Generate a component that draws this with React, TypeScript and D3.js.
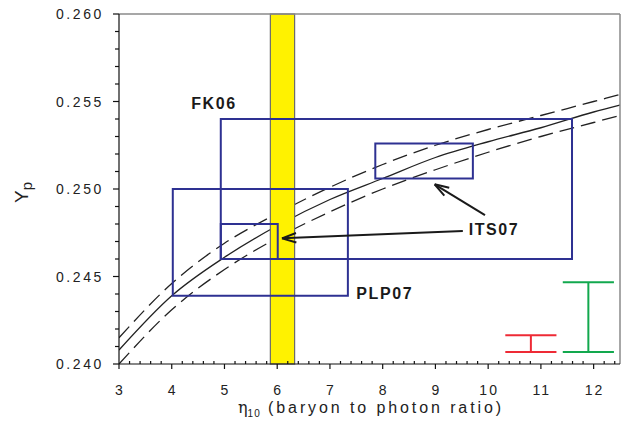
import React from "react"
import * as d3 from "d3"

// BBN prediction for Yp vs eta
const etaGrid = [3, 4, 5, 6, 7, 8, 9, 10, 11, 12, 12.5]
const ypCentral = [0.2408, 0.2439, 0.2461, 0.2479, 0.2494, 0.2506, 0.2518, 0.2527, 0.2535, 0.2544, 0.2548]
const ypUpper = [0.2415, 0.2446, 0.2469, 0.2486, 0.2501, 0.2514, 0.2525, 0.2534, 0.2542, 0.2550, 0.2554]
const ypLower = [0.2400, 0.2431, 0.2454, 0.2472, 0.2487, 0.2500, 0.2511, 0.2521, 0.2530, 0.2538, 0.2542]

// WMAP eta band
const bandEta = [5.87, 6.33]

// observational boxes
const boxNames = ["FK06", "PLP07", "ITS07", "ITS07"]
const boxEtaMin = [4.93, 4.02, 4.93, 7.86]
const boxEtaMax = [11.59, 7.34, 6.01, 9.71]
const boxYMin = [0.2460, 0.2439, 0.2460, 0.2506]
const boxYMax = [0.2540, 0.2500, 0.2480, 0.2526]

// labels
const labelText = ["FK06", "PLP07", "ITS07"]
const labelEta = [4.37, 7.5, 9.63]
const labelY = [0.2546, 0.24371, 0.2474]

// arrows from ITS07 label to its two boxes
const arrowFromEta = [9.52, 9.94]
const arrowFromY = [0.2476, 0.24851]
const arrowToEta = [6.09, 8.985]
const arrowToY = [0.24718, 0.25027]

// error scale bars
const errEta = [10.81, 11.9]
const errLow = [0.24069, 0.24069]
const errHigh = [0.24164, 0.24467]
const errColor = ["#ee2a35", "#12a84e"]

const xTicks = [3, 4, 5, 6, 7, 8, 9, 10, 11, 12]
const yTicks = [0.24, 0.245, 0.25, 0.255, 0.26]

const W = 624
const H = 434
const margin = { top: 14, right: 4, bottom: 70, left: 119 }

const App = () => {
    const x = d3.scaleLinear().domain([3, 12.5]).range([margin.left, W - margin.right])
    const y = d3.scaleLinear().domain([0.24, 0.26]).range([H - margin.bottom, margin.top])
    const x0 = x(3)
    const x1 = x(12.5)
    const y0 = y(0.24)
    const y1 = y(0.26)

    const line = d3
        .line<number>()
        .x((_, i) => x(etaGrid[i]))
        .y((d) => y(d))
        .curve(d3.curveMonotoneX)

    const xMinor = d3.range(3, 12.51, 0.2).filter((v) => Math.abs(v - Math.round(v)) > 0.01)
    const yMinor = d3.range(0.24, 0.2601, 0.001).filter((v) => Math.abs(v * 200 - Math.round(v * 200)) > 0.01)

    const font = "'Liberation Sans', Arial, sans-serif"

    const arrowHead = (fx: number, fy: number, tx: number, ty: number) => {
        const ang = Math.atan2(fy - ty, fx - tx)
        const len = 15
        const spread = 0.32
        const a = [ang - spread, ang + spread]
        return a.map((t) => `M${tx},${ty}L${tx + len * Math.cos(t)},${ty + len * Math.sin(t)}`).join("")
    }

    return (
        <svg width={W} height={H} style={{ position: "absolute", left: 0, top: 0 }} fontFamily={font}>
            <rect width={W} height={H} fill="#fff" />
            <defs>
                <clipPath id="plot">
                    <rect x={x0} y={y1} width={x1 - x0} height={y0 - y1} />
                </clipPath>
            </defs>

            {/* curves */}
            <g clipPath="url(#plot)" fill="none" stroke="#222" strokeWidth={1.3}>
                <path d={line(ypCentral) || ""} />
                <path d={line(ypUpper) || ""} strokeDasharray="15,7" />
                <path d={line(ypLower) || ""} strokeDasharray="15,7" />
            </g>

            {/* eta band */}
            <rect
                x={x(bandEta[0])}
                y={y1}
                width={x(bandEta[1]) - x(bandEta[0])}
                height={y0 - y1}
                fill="#fff200"
                stroke="#6b6b6b"
                strokeWidth={1.2}
            />

            {/* boxes */}
            <g fill="none" stroke="#2e3192" strokeWidth={2}>
                {boxNames.map((n, i) => (
                    <rect
                        key={i}
                        x={x(boxEtaMin[i])}
                        y={y(boxYMax[i])}
                        width={x(boxEtaMax[i]) - x(boxEtaMin[i])}
                        height={y(boxYMin[i]) - y(boxYMax[i])}
                    />
                ))}
            </g>

            {/* arrows */}
            <g fill="none" stroke="#1a1a1a" strokeWidth={2}>
                {arrowFromEta.map((_, i) => {
                    const fx = x(arrowFromEta[i])
                    const fy = y(arrowFromY[i])
                    const tx = x(arrowToEta[i])
                    const ty = y(arrowToY[i])
                    return (
                        <g key={i}>
                            <line x1={fx} y1={fy} x2={tx} y2={ty} />
                            <path d={arrowHead(fx, fy, tx, ty)} />
                        </g>
                    )
                })}
            </g>

            {/* labels */}
            {labelText.map((t, i) => (
                <text
                    key={i}
                    x={x(labelEta[i])}
                    y={y(labelY[i])}
                    fontSize={16}
                    fontWeight="bold"
                    letterSpacing={1.6}
                    fill="#1a1a1a"
                >
                    {t}
                </text>
            ))}

            {/* error bars */}
            {errEta.map((e, i) => (
                <g key={i} stroke={errColor[i]} strokeWidth={2}>
                    <line x1={x(e)} x2={x(e)} y1={y(errLow[i])} y2={y(errHigh[i])} />
                    <line x1={x(e - 0.485)} x2={x(e + 0.485)} y1={y(errLow[i])} y2={y(errLow[i])} />
                    <line x1={x(e - 0.485)} x2={x(e + 0.485)} y1={y(errHigh[i])} y2={y(errHigh[i])} />
                </g>
            ))}

            {/* frame */}
            <g stroke="#8a8a8a" strokeWidth={1.5}>
                <line x1={x0} x2={x1} y1={y1} y2={y1} />
                <line x1={x1} x2={x1} y1={y1} y2={y0} />
            </g>

            {/* axes */}
            <g stroke="#111" strokeWidth={1.2}>
                <line x1={x0} x2={x1} y1={y0} y2={y0} />
                <line x1={x0} x2={x0} y1={y0} y2={y1} />
                {xTicks.map((t) => (
                    <line key={"xt" + t} x1={x(t)} x2={x(t)} y1={y0} y2={y0 + 5} />
                ))}
                {xMinor.map((t, i) => (
                    <line key={"xm" + i} x1={x(t)} x2={x(t)} y1={y0} y2={y0 - 3} />
                ))}
                {yTicks.map((t) => (
                    <line key={"yt" + t} x1={x0 - 6} x2={x0} y1={y(t)} y2={y(t)} />
                ))}
                {yMinor.map((t, i) => (
                    <line key={"ym" + i} x1={x0 - 4} x2={x0} y1={y(t)} y2={y(t)} />
                ))}
            </g>

            <g fontSize={14} fill="#222">
                {xTicks.map((t) => (
                    <text key={"xl" + t} x={x(t) + 1} y={y0 + 31} textAnchor="middle" letterSpacing={2}>
                        {t}
                    </text>
                ))}
                {yTicks.map((t) => (
                    <text key={"yl" + t} x={x0 - 15} y={y(t) + 5} textAnchor="end" letterSpacing={2.6}>
                        {d3.format(".3f")(t)}
                    </text>
                ))}
            </g>

            {/* axis titles */}
            <text x={x(3) + 119} y={y0 + 49} fontSize={16} fill="#222" letterSpacing={2.9}>
                <tspan fontFamily="'DejaVu Serif', serif" fontSize={16} letterSpacing={0}>η</tspan>
                <tspan fontSize={10} dy={4} letterSpacing={1}>10</tspan>
                <tspan dy={-4}> (baryon to photon ratio)</tspan>
            </text>
            <text transform={`translate(28,${y(0.25) + 14}) rotate(-90)`} fontSize={19} fill="#222">
                Y<tspan fontSize={15} dy={4}>p</tspan>
            </text>
        </svg>
    )
}

export default App
